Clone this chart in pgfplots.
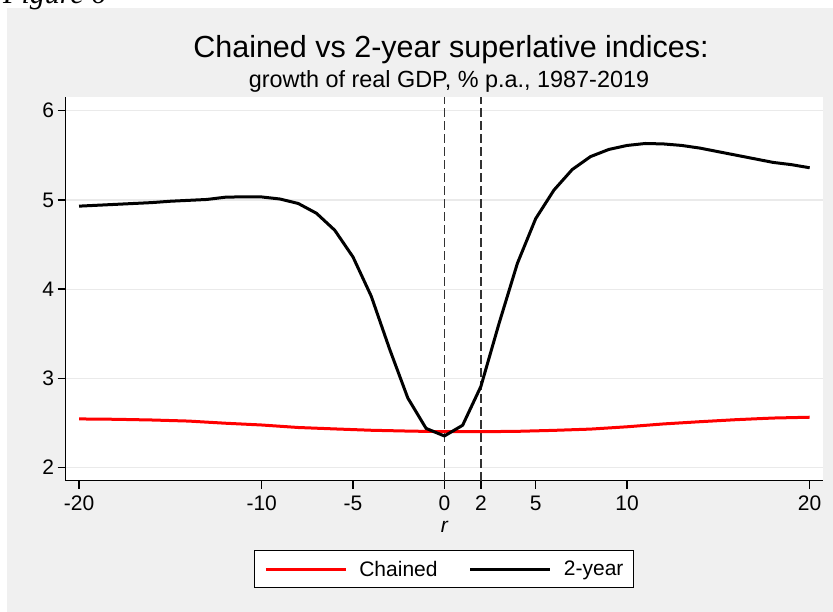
\documentclass[border=0pt]{standalone}
\usepackage{fontspec}
\setmainfont{Liberation Sans}
\newfontfamily\serifit{Liberation Serif}
\usepackage{pgfplots}
\pgfplotsset{compat=1.18}
\definecolor{bggray}{RGB}{240,240,240}
\definecolor{gridgray}{RGB}{234,234,234}
\definecolor{dashgray}{RGB}{50,50,50}
\definecolor{stred}{RGB}{255,0,0}
\begin{document}
\begin{tikzpicture}[x=1pt,y=1pt]
\useasboundingbox (0,0) rectangle (833,612);
\clip (0,0) rectangle (833,612);
\fill[bggray] (7,0) rectangle (833,604);
\node[anchor=base west, inner sep=0pt, font=\serifit\itshape\fontsize{30}{36}\selectfont] at (3,608) {Figure 6};
\begin{axis}[
  at={(65.7pt,131.3pt)}, anchor=south west,
  scale only axis, width=757.3pt, height=383.7pt,
  xmin=-20.73, xmax=20.73, ymin=1.854, ymax=6.153,
  axis x line=bottom, axis y line=left,
  axis line style={-, line width=1.5pt, black},
  axis background/.style={fill=white},
  tick align=outside, major tick length=8pt,
  tick style={line width=1.5pt, black},
  xtick={-20,-10,-5,0,2,5,10,20},
  xticklabels={-20,-10,-5,0,2,5,10,20},
  ytick={2,3,4,5,6},
  yticklabels={2,3,4,5,6},
  tick label style={font=\fontsize{21}{25}\selectfont},
  xticklabel style={yshift=-4pt},
  ymajorgrids, grid style={gridgray, line width=1.3pt},
  xlabel={\itshape r},
  xlabel style={at={(axis description cs:0.5,-0.134)}, anchor=base, font=\fontsize{21}{25}\selectfont},
  legend columns=2,
  legend style={at={(axis description cs:0.4994,-0.2307)}, anchor=center,
    draw=black, line width=1.2pt, fill=white,
    inner xsep=10pt, inner ysep=10pt,
    font=\fontsize{21}{25}\selectfont,
    nodes={inner sep=0pt},
    /tikz/every odd column/.append style={column sep=12pt},
    /tikz/every even column/.append style={column sep=31.4pt}},
  legend image code/.code={\draw[#1] (0pt,0pt) -- (80pt,0pt);},
]
\addplot[dashgray, line width=1.5pt, dash pattern=on 9pt off 4pt, forget plot] coordinates {(0,1.854) (0,6.153)};
\addplot[dashgray, line width=1.5pt, dash pattern=on 9pt off 4pt, forget plot] coordinates {(2,1.854) (2,6.153)};
\addplot[stred, line width=3pt, line join=round] coordinates {
(-20,2.546) (-18,2.542) (-16,2.534) (-14,2.522) (-12,2.498) (-10,2.478)
(-8,2.450) (-6,2.434) (-4,2.419) (-2,2.410) (0,2.403) (2,2.403) (4,2.407)
(6,2.418) (8,2.432) (10,2.458) (12,2.490) (14,2.515) (16,2.538) (18,2.556) (20,2.565)};
\addlegendentry{Chained}
\addplot[black, line width=3pt, line join=round] coordinates {
(-20,4.930) (-19,4.940) (-18,4.950) (-17,4.960) (-16,4.970) (-15,4.985)
(-14,4.995) (-13,5.005) (-12,5.030) (-11,5.035) (-10,5.033) (-9,5.010)
(-8,4.960) (-7,4.850) (-6,4.660) (-5,4.360) (-4,3.920) (-3,3.330)
(-2,2.780) (-1,2.440) (0,2.355) (1,2.475) (2,2.910) (3,3.620) (4,4.290)
(5,4.790) (6,5.110) (7,5.340) (8,5.485) (9,5.565) (10,5.610) (11,5.632)
(12,5.627) (13,5.610) (14,5.580) (15,5.540) (16,5.500) (17,5.460)
(18,5.420) (19,5.395) (20,5.360)};
\addlegendentry{2-year}
\end{axis}
\node[anchor=base, inner sep=0pt, font=\fontsize{30.5}{36}\selectfont] at (451,554) {Chained vs 2-year superlative indices:};
\node[anchor=base, inner sep=0pt, font=\fontsize{23.4}{28}\selectfont] at (449,524) {growth of real GDP, \% p.a., 1987-2019};
\end{tikzpicture}
\end{document}
